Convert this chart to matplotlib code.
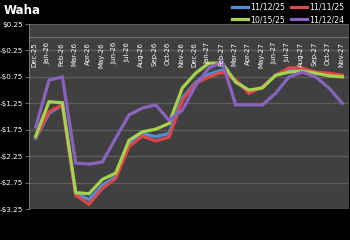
import matplotlib
matplotlib.use("Agg")
import matplotlib.pyplot as plt
from matplotlib.lines import Line2D

months = ["Dec-25","Jan-26","Feb-26","Mar-26","Apr-26","May-26","Jun-26","Jul-26","Aug-26","Sep-26","Oct-26","Nov-26",
          "Dec-26","Jan-27","Feb-27","Mar-27","Apr-27","May-27","Jun-27","Jul-27","Aug-27","Sep-27","Oct-27","Nov-27"]
s_111225 = [-1.91,-1.44,-1.28,-2.96,-3.07,-2.80,-2.64,-2.02,-1.82,-1.88,-1.82,-1.15,-0.85,-0.70,-0.62,-0.82,-1.02,-0.95,-0.72,-0.62,-0.62,-0.68,-0.70,-0.73]
s_111125 = [-1.89,-1.41,-1.28,-2.99,-3.16,-2.86,-2.67,-2.07,-1.87,-1.96,-1.89,-1.19,-0.87,-0.75,-0.66,-0.81,-1.06,-0.94,-0.72,-0.58,-0.58,-0.66,-0.68,-0.72]
s_101525 = [-1.87,-1.22,-1.24,-2.94,-2.96,-2.69,-2.57,-1.95,-1.79,-1.74,-1.63,-0.96,-0.68,-0.49,-0.49,-0.85,-1.00,-0.96,-0.72,-0.66,-0.64,-0.68,-0.73,-0.75]
s_111224 = [-1.70,-0.81,-0.75,-2.38,-2.40,-2.36,-1.91,-1.47,-1.34,-1.28,-1.57,-1.38,-0.91,-0.58,-0.47,-1.28,-1.28,-1.28,-1.06,-0.75,-0.66,-0.75,-0.96,-1.25]
yticks = [0.25,-0.25,-0.75,-1.25,-1.75,-2.25,-2.75,-3.25]
ytick_labels = ["$0.25","-$0.25","-$0.75","-$1.25","-$1.75","-$2.25","-$2.75","-$3.25"]

series = [("11/12/25", s_111225, "#4f8fdc"),
          ("11/11/25", s_111125, "#dc4848"),
          ("10/15/25", s_101525, "#a6d24e"),
          ("11/12/24", s_111224, "#8a62c0")]

fig = plt.figure(figsize=(3.5, 2.4), dpi=100, facecolor="black")
ax = fig.add_axes([0.083, 0.129, 0.914, 0.771])
ax.set_facecolor("#404040")
x = list(range(len(months)))
for name, vals, col in series:
    ax.plot(x, vals, color=col, lw=2.3, solid_joinstyle="miter", label=name)

ax.set_xlim(-0.5, len(months) - 0.5)
ax.set_ylim(-3.25, 0.25)
ax.set_yticks(yticks)
ax.set_yticklabels(ytick_labels, color="white", fontsize=5.2)
ax.tick_params(axis="y", length=3, width=0.6, color="#808080", pad=1.5)
ax.set_xticks([])
for yv in yticks:
    ax.axhline(yv, color="#5e5e5e", lw=1.0, zorder=0)
ax.axhline(0, color="#6e6e6e", lw=0.8, zorder=1)
for sp in ax.spines.values():
    sp.set_visible(False)
ax.spines["left"].set_visible(True)
ax.spines["left"].set_color("#808080")
ax.spines["left"].set_linewidth(0.6)

for i, m in enumerate(months):
    ax.annotate(m, xy=(i, 0), xytext=(-1, -3.5), textcoords="offset points",
                rotation=90, ha="center", va="top", color="white", fontsize=5.0)

fig.text(0.010, 0.955, "Waha", color="white", fontsize=8.5, fontweight="bold", va="center", ha="left")

handles = [Line2D([], [], color=c, lw=2.3) for _, _, c in series]
order = [0, 2, 1, 3]
leg = fig.legend([handles[i] for i in order], [series[i][0] for i in order],
                 ncol=2, loc="upper right", bbox_to_anchor=(1.0, 1.015), frameon=False,
                 fontsize=5.6, labelcolor="white", handlelength=2.1, handletextpad=0.2,
                 columnspacing=0.8, labelspacing=0.45, borderpad=0.3)

fig.savefig("out.png", dpi=100, facecolor="black")
